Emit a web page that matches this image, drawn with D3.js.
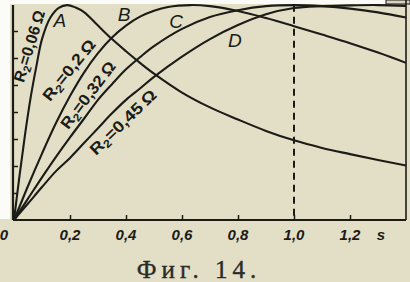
<!DOCTYPE html>
<html>
<head>
<meta charset="utf-8">
<script src="https://cdn.jsdelivr.net/npm/d3@7"></script>
<style>
  html, body { margin: 0; padding: 0; background: #e3dfc6; }
  svg { display: block; }
</style>
</head>
<body>
<script>
const W = 410, H = 282;

// slip values (s) and torque readings for each rotor resistance
const slip = [0, 0.02, 0.04, 0.06, 0.08, 0.10, 0.13, 0.16, 0.19, 0.22, 0.25, 0.30, 0.35, 0.40, 0.45, 0.50, 0.60, 0.70, 0.80, 0.90, 1.00, 1.10, 1.20, 1.30, 1.40];
const torqueA = [0, 1.66, 3.21, 4.57, 5.7, 6.7, 7.5, 7.86, 7.96, 7.87, 7.7, 7.2, 6.7, 6.25, 5.82, 5.42, 4.72, 4.17, 3.72, 3.3, 2.95, 2.67, 2.44, 2.22, 2.02];

const slipB = [0, 0.02, 0.05, 0.10, 0.15, 0.20, 0.25, 0.30, 0.35, 0.40, 0.45, 0.50, 0.55, 0.63, 0.70, 0.80, 0.90, 1.00, 1.10, 1.20, 1.30, 1.40];
const torqueB = [0, 0.5, 1.26, 2.46, 3.59, 4.59, 5.46, 6.18, 6.76, 7.2, 7.53, 7.75, 7.89, 7.96, 7.92, 7.74, 7.48, 7.18, 6.87, 6.55, 6.2, 5.82];

const slipCD = [0, 0.02, 0.05, 0.10, 0.15, 0.20, 0.25, 0.30, 0.35, 0.40, 0.45, 0.50, 0.60, 0.70, 0.80, 0.90, 1.00, 1.10, 1.20, 1.30, 1.40];
const torqueC = [0, 0.32, 0.79, 1.58, 2.34, 3.06, 3.75, 4.45, 5.03, 5.58, 6.03, 6.44, 7.08, 7.52, 7.77, 7.92, 7.96, 7.92, 7.83, 7.69, 7.5];
const torqueD = [0, 0.25, 0.61, 1.22, 1.81, 2.3, 2.85, 3.4, 3.95, 4.45, 4.87, 5.3, 6.05, 6.7, 7.22, 7.62, 7.85, 7.92, 7.95, 7.96, 7.93];

const xTicks = [0.2, 0.4, 0.6, 0.8, 1.0, 1.2];
const xTickLabels = ["0,2", "0,4", "0,6", "0,8", "1,0", "1,2"];
const yTicks = [1, 2, 3, 4, 5, 6, 7];

const curveNames = ["A", "B", "C", "D"];
const letterPos = [[0.164, 7.4], [0.393, 7.6], [0.579, 7.37], [0.789, 6.67]];
const resLabels = ["0,06", "0,2", "0,32", "0,45"];
const resPos = [[0.054, 6.44], [0.196, 5.56], [0.264, 4.63], [0.389, 3.63]];
const resAngle = [-73, -51, -53, -44];
const resLength = [74, 74, 80, 86];

const x = d3.scaleLinear().domain([0, 1.4]).range([14, 406]);
const y = d3.scaleLinear().domain([0, 8]).range([220, 4]);

const svg = d3.select('body').append('svg').attr('width', W).attr('height', H);

// paper & scan borders
svg.append('rect').attr('x', 0).attr('y', 0).attr('width', W).attr('height', H).attr('fill', '#e3dfc6');
svg.append('rect').attr('x', 0).attr('y', 0).attr('width', 10).attr('height', 219).attr('fill', '#fbfbf7');
svg.append('rect').attr('x', 0).attr('y', 0).attr('width', 386).attr('height', 4).attr('fill', '#fbfbf7');
svg.append('rect').attr('x', 386).attr('y', 0).attr('width', 24).attr('height', 4)
    .attr('fill', '#d9d5bd').attr('stroke', '#333').attr('stroke-width', 1.2);

const ink = '#1b1b18';

// axes
const xAxis = d3.axisBottom(x).tickValues(xTicks).tickSize(-5).tickFormat('');
const gx = svg.append('g').attr('transform', `translate(0,${y(0)})`).call(xAxis);
gx.select('.domain').attr('d', `M${x(0) - 1},0H${x(1.4)}`);
const yAxis = d3.axisLeft(y).tickValues(yTicks).tickSize(-5).tickFormat('');
const gy = svg.append('g').attr('transform', `translate(${x(0) - 1},0)`).call(yAxis);
gy.select('.domain').attr('d', `M0,${y(0)}V${y(8) + 1}`);
svg.selectAll('.domain').attr('stroke', ink).attr('stroke-width', 2.2);
svg.selectAll('.tick line').attr('stroke', ink).attr('stroke-width', 1.5);

// right border
svg.append('line').attr('x1', x(1.4)).attr('x2', x(1.4)).attr('y1', 0).attr('y2', y(0))
    .attr('stroke', ink).attr('stroke-width', 1.6);

// dashed line at s = 1
svg.append('line').attr('x1', x(1)).attr('x2', x(1)).attr('y1', y(7.97)).attr('y2', y(0))
    .attr('stroke', ink).attr('stroke-width', 2).attr('stroke-dasharray', '7,5');

// curves
const line = d3.line().x(d => x(d[0])).y(d => y(d[1])).curve(d3.curveCatmullRom.alpha(0.5));
const series = [
    d3.zip(slip, torqueA),
    d3.zip(slipB, torqueB),
    d3.zip(slipCD, torqueC),
    d3.zip(slipCD, torqueD)
];
svg.selectAll('path.curve')
    .data(series)
    .enter()
    .append('path')
    .attr('class', 'curve')
    .attr('d', line)
    .attr('fill', 'none')
    .attr('stroke', ink)
    .attr('stroke-width', 2.1);

// tick labels
const lab = svg.append('g')
    .attr('font-family', '"Liberation Sans", Arial, sans-serif')
    .attr('font-style', 'italic')
    .attr('font-weight', 'bold')
    .attr('font-size', 15)
    .attr('fill', ink)
    .attr('text-anchor', 'middle');
lab.selectAll('text.xl')
    .data(xTicks)
    .enter()
    .append('text')
    .attr('x', d => x(d))
    .attr('y', 240)
    .text((d, i) => xTickLabels[i]);
lab.append('text').attr('x', x(0) - 10).attr('y', 240).text('0');
lab.append('text').attr('x', x(1.31)).attr('y', 240).text('s');

// curve letters
svg.selectAll('text.letter')
    .data(curveNames)
    .enter()
    .append('text')
    .attr('x', (d, i) => x(letterPos[i][0]))
    .attr('y', (d, i) => y(letterPos[i][1]))
    .attr('dy', '0.35em')
    .attr('text-anchor', 'middle')
    .attr('font-family', '"Liberation Sans", Arial, sans-serif')
    .attr('font-style', 'italic')
    .attr('font-size', 19)
    .attr('fill', ink)
    .text(d => d);

// resistance labels
const res = svg.selectAll('text.res')
    .data(resLabels)
    .enter()
    .append('text')
    .attr('transform', (d, i) => `translate(${x(resPos[i][0])},${y(resPos[i][1])}) rotate(${resAngle[i]})`)
    .attr('dy', '0.35em')
    .attr('text-anchor', 'middle')
    .attr('textLength', (d, i) => resLength[i])
    .attr('lengthAdjust', 'spacingAndGlyphs')
    .attr('font-family', '"Liberation Sans", Arial, sans-serif')
    .attr('font-weight', 'bold')
    .attr('font-size', 16)
    .attr('fill', ink);
res.append('tspan').text('R');
res.append('tspan').attr('font-size', 11).attr('dy', 3).text('2');
res.append('tspan').attr('dy', -3).text(d => '=' + d + '\u2009\u03A9');

// caption
svg.append('text')
    .attr('x', 199)
    .attr('y', 278)
    .attr('text-anchor', 'middle')
    .attr('font-family', '"Liberation Serif", "DejaVu Serif", serif')
    .attr('font-size', 25)
    .attr('letter-spacing', 5)
    .attr('stroke', '#2a2a26')
    .attr('stroke-width', 0.4)
    .attr('fill', '#2a2a26')
    .text('Фиг. 14.');
</script>
</body>
</html>
